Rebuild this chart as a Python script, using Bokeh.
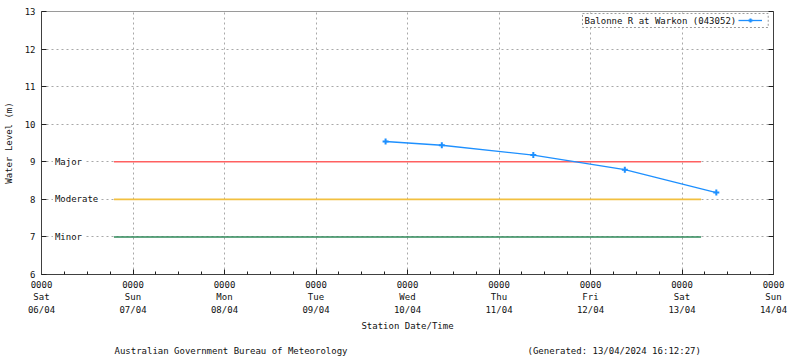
from datetime import datetime
from bokeh.plotting import figure
from bokeh.layouts import column
from bokeh.models import (Range1d, FixedTicker, LinearAxis, Label, Legend,
                          LegendItem, ColumnDataSource)
from bokeh.core.properties import value
from bokeh.embed import file_html
from bokeh.resources import INLINE

# ---------------- data ----------------
series_name = "Balonne R at Warkon (043052)"
obs_times = ["2024-04-09 18:15", "2024-04-10 09:00", "2024-04-11 09:00",
             "2024-04-12 09:00", "2024-04-13 09:00"]
obs_levels = [9.54, 9.44, 9.18, 8.79, 8.18]

threshold_names = ["Major", "Moderate", "Minor"]
threshold_levels = [9, 8, 7]
threshold_start = "2024-04-06 19:00"
threshold_end = "2024-04-13 05:00"

day_ticks = ["2024-04-06", "2024-04-07", "2024-04-08", "2024-04-09", "2024-04-10",
             "2024-04-11", "2024-04-12", "2024-04-13", "2024-04-14"]
day_tick_labels = ["0000\nSat\n06/04", "0000\nSun\n07/04", "0000\nMon\n08/04",
                   "0000\nTue\n09/04", "0000\nWed\n10/04", "0000\nThu\n11/04",
                   "0000\nFri\n12/04", "0000\nSat\n13/04", "0000\nSun\n14/04"]
y_ticks = [6, 7, 8, 9, 10, 11, 12, 13]

x_start, x_end = "2024-04-06 00:00", "2024-04-14 00:00"
y_start, y_end = 6, 13
x_axis_title = "Station Date/Time"
y_axis_title = "Water Level (m)"
footer_texts = ["Australian Government Bureau of Meteorology",
                "(Generated: 13/04/2024 16:12:27)"]

# ---------------- helpers ----------------
EPOCH = datetime(1970, 1, 1)


def ms(s):
    return int((datetime.fromisoformat(s) - EPOCH).total_seconds() * 1000)


FONT = "DejaVu Sans Mono"
FS = "9px"
W, H_MAIN, H_FOOT = 800, 338, 20
MB_L, MB_R, MB_T, MB_B = 41, 27, 11, 64

day_ms = [ms(d) for d in day_ticks]
minor_ms = [t + h * 3600000 for t in day_ms[:-1] for h in (6, 12, 18)]

p = figure(width=W, height=H_MAIN, x_axis_type="datetime",
           x_range=Range1d(ms(x_start), ms(x_end)),
           y_range=Range1d(y_start, y_end),
           output_backend="svg", toolbar_location=None,
           min_border_left=MB_L, min_border_right=MB_R,
           min_border_top=MB_T, min_border_bottom=MB_B)
p.background_fill_color = "white"
p.border_fill_color = "white"
p.outline_line_color = "#9a9a9a"

# x axis
xa = p.xaxis[0]
xa.ticker = FixedTicker(ticks=day_ms, minor_ticks=minor_ms)
xa.major_label_overrides = {t: lab for t, lab in zip(day_ms, day_tick_labels)}
xa.major_tick_in = 5
xa.major_tick_out = 0
xa.minor_tick_in = 3
xa.minor_tick_out = 0
xa.major_label_standoff = 5
xa.major_label_text_line_height = 1.25
xa.axis_label = x_axis_title
xa.axis_label_standoff = 3

# y axis
ya = p.yaxis[0]
ya.ticker = FixedTicker(ticks=y_ticks, minor_ticks=[])
ya.major_tick_in = 5
ya.major_tick_out = 0
ya.major_label_standoff = 6
ya.axis_label = y_axis_title
ya.axis_label_standoff = 8

ra = LinearAxis(ticker=FixedTicker(ticks=y_ticks, minor_ticks=[]),
                major_tick_in=5, major_tick_out=0)
p.add_layout(ra, "right")

for ax in (xa, ya, ra):
    ax.axis_line_color = "#404040"
    ax.major_tick_line_color = "#202020"
    ax.minor_tick_line_color = "#202020"
    ax.major_label_text_font = FONT
    ax.major_label_text_font_size = FS
    ax.major_label_text_color = "#111111"
    ax.axis_label_text_font = FONT
    ax.axis_label_text_font_size = FS
    ax.axis_label_text_font_style = "normal"
    ax.axis_label_text_color = "#111111"
ra.major_label_text_color = None

# grids
p.xgrid.ticker = FixedTicker(ticks=day_ms)
p.ygrid.ticker = FixedTicker(ticks=y_ticks)
for g in (p.xgrid, p.ygrid):
    g.grid_line_color = "#a8a8a8"
    g.grid_line_dash = "2 3"
    g.grid_line_width = 1

# threshold lines
thr_colors = ["#ff6060", "#f2c040", "#2f8a5a"]
n = len(threshold_levels)
p.segment(x0=[ms(threshold_start)] * n, y0=threshold_levels,
          x1=[ms(threshold_end)] * n, y1=threshold_levels,
          line_color=thr_colors, line_width=1.6)

label_x = ms(x_start) + int(3.0 * 3600000)
p.text(x=[label_x] * n, y=threshold_levels, text=threshold_names,
       text_font=value(FONT), text_font_size=FS, text_color="#111111",
       text_align="left", text_baseline="middle",
       background_fill_color="white", padding=2)

# series
src = ColumnDataSource(dict(t=[ms(s) for s in obs_times], level=obs_levels))
line = p.line("t", "level", source=src, line_color="#1e90ff", line_width=1.3)
pts = p.scatter("t", "level", source=src, marker="cross", size=6,
                line_color="#1e90ff", line_width=2)

# legend (text box + glyph sample on the right)
leg_text = Label(x=541, y=254, x_units="screen", y_units="screen",
                 text=series_name, text_font=FONT, text_font_size=FS,
                 text_color="#111111", text_baseline="middle",
                 background_fill_color="white",
                 border_line_color="#9a9a9a", border_line_dash="2 2",
                 padding=dict(left=2, right=32, top=2, bottom=2))
p.add_layout(leg_text)
leg = Legend(items=[LegendItem(label=" ", renderers=[line, pts])],
             location=(697, 249), glyph_width=24, glyph_height=10,
             label_width=0, label_standoff=0, label_text_font_size="1px",
             padding=0, margin=0, spacing=0,
             border_line_color=None, background_fill_alpha=0)
p.add_layout(leg)

# footer strip (its frame is aligned with the main frame by the column)
foot = figure(width=W, height=H_FOOT, x_range=Range1d(MB_L, W - MB_R),
              y_range=Range1d(0, H_FOOT), output_backend="svg",
              toolbar_location=None, min_border=0)
foot.axis.visible = False
foot.grid.visible = False
foot.outline_line_color = None
foot.background_fill_color = "white"
foot.border_fill_color = "white"
foot.text(x=[114, 527], y=[8, 8], text=footer_texts,
          text_font=value(FONT), text_font_size=FS, text_color="#111111",
          text_align="left", text_baseline="middle")

layout = column(p, foot, spacing=0)
open("out.html", "w").write(file_html(layout, INLINE))
